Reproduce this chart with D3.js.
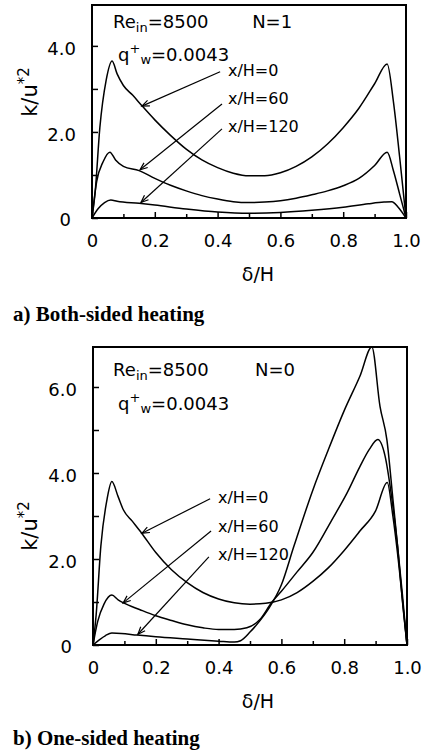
<!DOCTYPE html>
<html>
<head>
<meta charset="utf-8">
<script src="https://cdn.jsdelivr.net/npm/d3@7"></script>
<style>
  body { margin: 0; background: #fff; }
  svg { display: block; }
  .txt { font-family: 'DejaVu Sans', sans-serif; fill: #000; }
  .cap { font-family: 'Liberation Serif', 'Times New Roman', serif; font-weight: bold; font-size: 21px; fill: #000; }
</style>
</head>
<body>
<svg id="chart" width="424" height="754"></svg>
<script>
// tick values shared by both panels
const xTickValues = [0, 0.2, 0.4, 0.6, 0.8, 1.0];
const xTickLabels = ['0', '0.2', '0.4', '0.6', '0.8', '1.0'];
const xMinorTicks = [0.1, 0.3, 0.5, 0.7, 0.9];

const yTicksA = [0, 2, 4];
const yTickLabelsA = ['0', '2.0', '4.0'];
const yMinorA = [1, 3];
const yTicksB = [0, 2, 4, 6];
const yTickLabelsB = ['0', '2.0', '4.0', '6.0'];
const yMinorB = [1, 3, 5];

const seriesNames = ['x/H=0', 'x/H=60', 'x/H=120'];

// a) both-sided heating (N=1), delta/H vs k/u*^2
const a0X = [0, 0.01, 0.025, 0.045, 0.064, 0.08, 0.1, 0.13, 0.16, 0.2, 0.25, 0.3, 0.35, 0.4, 0.45, 0.5, 0.55, 0.6, 0.65, 0.7, 0.75, 0.8, 0.85, 0.9, 0.94, 0.96, 0.98, 1.0];
const a0Y = [0, 0.6, 2.1, 3.2, 3.65, 3.35, 3.08, 2.85, 2.6, 2.28, 1.92, 1.6, 1.35, 1.17, 1.04, 0.98, 0.98, 1.05, 1.2, 1.42, 1.72, 2.1, 2.55, 3.12, 3.58, 2.7, 1.4, 0];
const a60X = [0, 0.015, 0.035, 0.057, 0.075, 0.1, 0.15, 0.2, 0.25, 0.3, 0.35, 0.4, 0.45, 0.5, 0.55, 0.6, 0.65, 0.7, 0.75, 0.8, 0.85, 0.9, 0.94, 0.96, 0.98, 1.0];
const a60Y = [0, 0.85, 1.3, 1.53, 1.35, 1.2, 1.1, 0.92, 0.76, 0.63, 0.52, 0.44, 0.38, 0.36, 0.37, 0.4, 0.46, 0.54, 0.63, 0.75, 0.92, 1.22, 1.53, 1.1, 0.55, 0];
const a120X = [0, 0.02, 0.04, 0.06, 0.08, 0.15, 0.2, 0.3, 0.4, 0.5, 0.6, 0.7, 0.8, 0.88, 0.93, 0.955, 0.975, 1.0];
const a120Y = [0, 0.22, 0.36, 0.42, 0.39, 0.34, 0.3, 0.21, 0.14, 0.11, 0.13, 0.18, 0.25, 0.33, 0.37, 0.38, 0.25, 0];

// b) one-sided heating (N=0)
const b0X = [0, 0.01, 0.025, 0.045, 0.06, 0.08, 0.097, 0.125, 0.155, 0.2, 0.25, 0.3, 0.35, 0.4, 0.45, 0.5, 0.55, 0.6, 0.65, 0.7, 0.75, 0.8, 0.85, 0.9, 0.937, 0.955, 0.975, 1.0];
const b0Y = [0, 0.7, 2.3, 3.4, 3.8, 3.45, 3.14, 2.88, 2.6, 2.15, 1.75, 1.45, 1.22, 1.07, 0.98, 0.95, 0.97, 1.05, 1.22, 1.48, 1.8, 2.2, 2.65, 3.12, 3.78, 3.0, 1.8, 0];
const b60X = [0, 0.015, 0.035, 0.06, 0.08, 0.097, 0.15, 0.2, 0.25, 0.3, 0.35, 0.4, 0.45, 0.49, 0.53, 0.57, 0.6, 0.65, 0.7, 0.76, 0.81, 0.85, 0.88, 0.907, 0.93, 0.95, 0.97, 0.985, 1.0];
const b60Y = [0, 0.55, 0.95, 1.16, 1.05, 0.98, 0.82, 0.68, 0.57, 0.47, 0.4, 0.36, 0.36, 0.4, 0.58, 1.0, 1.25, 1.7, 2.15, 2.9, 3.55, 4.15, 4.55, 4.78, 4.4, 3.5, 2.3, 1.2, 0];
const b120X = [0, 0.02, 0.04, 0.06, 0.09, 0.14, 0.2, 0.3, 0.4, 0.45, 0.47, 0.5, 0.53, 0.56, 0.6, 0.64, 0.7, 0.75, 0.8, 0.85, 0.888, 0.914, 0.936, 0.955, 0.97, 0.987, 1.0];
const b120Y = [0, 0.12, 0.22, 0.28, 0.27, 0.23, 0.19, 0.14, 0.09, 0.07, 0.1, 0.3, 0.55, 0.85, 1.4, 2.3, 3.6, 4.55, 5.45, 6.25, 6.93, 5.55, 4.77, 3.4, 2.3, 0.9, 0];

// arrow annotations in data coordinates: label start, arrow tail, arrow tip
const arrowsA = [
  { label: [0.433, 3.30], from: [0.408, 3.40], to: [0.159, 2.60] },
  { label: [0.433, 2.64], from: [0.414, 2.65], to: [0.153, 1.12] },
  { label: [0.433, 2.00], from: [0.414, 2.07], to: [0.156, 0.36] }
];
const arrowsB = [
  { label: [0.398, 3.30], from: [0.373, 3.40], to: [0.156, 2.60] },
  { label: [0.398, 2.62], from: [0.376, 2.65], to: [0.096, 0.98] },
  { label: [0.398, 1.98], from: [0.369, 2.05], to: [0.143, 0.25] }
];

const svg = d3.select('#chart');

function drawPanel(p) {
  const x = d3.scaleLinear().domain([0, 1]).range([p.left, p.right]);
  const y = d3.scaleLinear().domain([0, p.yMax]).range([p.bottom, p.top]);
  const g = svg.append('g');

  const line = d3.line()
    .curve(d3.curveMonotoneX)
    .x(d => x(d[0]))
    .y(d => y(d[1]));

  p.series.forEach(s => {
    g.append('path')
      .datum(d3.zip(s[0], s[1]))
      .attr('d', line)
      .attr('fill', 'none')
      .attr('stroke', '#000')
      .attr('stroke-width', 1.5);
  });

  // ticks, inward
  const xAxis = d3.axisBottom(x)
    .tickValues(xTickValues)
    .tickFormat((d, i) => xTickLabels[i])
    .tickSizeInner(-6).tickSizeOuter(0).tickPadding(16);
  const xMinor = d3.axisBottom(x)
    .tickValues(xMinorTicks).tickFormat('')
    .tickSizeInner(-4).tickSizeOuter(0);
  const yAxis = d3.axisLeft(y)
    .tickValues(p.yTicks)
    .tickFormat((d, i) => p.yLabels[i])
    .tickSizeInner(-6).tickSizeOuter(0).tickPadding(16);
  const yMinor = d3.axisLeft(y)
    .tickValues(p.yMinor).tickFormat('')
    .tickSizeInner(-6).tickSizeOuter(0);

  [[xAxis, 'translate(0,' + p.bottom + ')'], [xMinor, 'translate(0,' + p.bottom + ')'],
   [yAxis, 'translate(' + p.left + ',0)'], [yMinor, 'translate(' + p.left + ',0)']].forEach(a => {
    const ax = g.append('g').attr('transform', a[1]).call(a[0]);
    ax.select('.domain').remove();
    ax.selectAll('line').attr('stroke', '#000').attr('stroke-width', 1.5);
    ax.selectAll('text')
      .attr('class', 'txt')
      .style('font-size', '18px')
      .attr('fill', '#000');
  });
  g.selectAll('text').filter(function () { return this.textContent === '0' && this.getAttribute('dy') === '0.32em'; })
    .attr('x', -21).attr('dy', '0.42em');
  g.selectAll('text').filter(function () { return this.getAttribute('dy') === '0.32em'; })
    .attr('dy', '0.5em');

  // frame
  g.append('rect')
    .attr('x', x(0)).attr('y', y(p.yMax))
    .attr('width', x(1) - x(0)).attr('height', y(0) - y(p.yMax))
    .attr('fill', 'none').attr('stroke', '#000').attr('stroke-width', 2);

  // header texts
  const re = g.append('text').attr('class', 'txt').style('font-size', '18px')
    .attr('x', x(p.reAt[0])).attr('y', y(p.reAt[1]));
  re.append('tspan').text('Re');
  re.append('tspan').style('font-size', '13px').attr('dy', 4).text('in');
  re.append('tspan').attr('dy', -4).text('=8500');

  g.append('text').attr('class', 'txt').style('font-size', '18px')
    .attr('x', x(p.nAt[0])).attr('y', y(p.nAt[1])).text(p.nText);

  const q = g.append('text').attr('class', 'txt').style('font-size', '18px')
    .attr('x', x(p.qAt[0])).attr('y', y(p.qAt[1]));
  q.append('tspan').text('q');
  q.append('tspan').style('font-size', '13px').attr('dy', -8).text('+');
  q.append('tspan').style('font-size', '13px').attr('dy', 11).text('w');
  q.append('tspan').attr('dy', -3).text('=0.0043');

  // arrows with labels
  p.arrows.forEach((a, i) => {
    const x1 = x(a.from[0]), y1 = y(a.from[1]);
    const x2 = x(a.to[0]), y2 = y(a.to[1]);
    g.append('line')
      .attr('x1', x1).attr('y1', y1).attr('x2', x2).attr('y2', y2)
      .attr('stroke', '#000').attr('stroke-width', 1.2);
    const ang = Math.atan2(y1 - y2, x1 - x2);
    const len = 8, spread = 0.38;
    g.append('path')
      .attr('d', 'M' + (x2 + len * Math.cos(ang - spread)) + ',' + (y2 + len * Math.sin(ang - spread)) +
        'L' + x2 + ',' + y2 +
        'L' + (x2 + len * Math.cos(ang + spread)) + ',' + (y2 + len * Math.sin(ang + spread)))
      .attr('fill', 'none').attr('stroke', '#000').attr('stroke-width', 1.2);
    g.append('text').attr('class', 'txt').style('font-size', '16px')
      .attr('x', x(a.label[0])).attr('y', y(a.label[1]))
      .text(seriesNames[i]);
  });

  // axis titles
  g.append('text').attr('class', 'txt').style('font-size', '19px')
    .attr('text-anchor', 'middle')
    .attr('x', 258).attr('y', p.bottom + 63)
    .text('δ/H');

  const yl = g.append('text').attr('class', 'txt').style('font-size', '21px')
    .attr('text-anchor', 'middle')
    .attr('transform', 'translate(37,' + p.yLabelMid + ') rotate(-90)');
  yl.append('tspan').text('k/u');
  yl.append('tspan').style('font-size', '15px').attr('dy', -8).text('*2');

  svg.append('text').attr('class', 'cap')
    .attr('x', 13).attr('y', p.captionY)
    .text(p.caption);
}

drawPanel({
  left: 92, right: 406, top: 5, bottom: 218, yMax: 4.95,
  series: [[a0X, a0Y], [a60X, a60Y], [a120X, a120Y]],
  yTicks: yTicksA, yLabels: yTickLabelsA, yMinor: yMinorA,
  arrows: arrowsA,
  reAt: [0.067, 4.42], nAt: [0.51, 4.42], nText: 'N=1', qAt: [0.083, 3.66],
  yLabelMid: 92,
  caption: 'a) Both-sided heating', captionY: 321
});

drawPanel({
  left: 93, right: 407, top: 347, bottom: 645, yMax: 6.93,
  series: [[b0X, b0Y], [b60X, b60Y], [b120X, b120Y]],
  yTicks: yTicksB, yLabels: yTickLabelsB, yMinor: yMinorB,
  arrows: arrowsB,
  reAt: [0.064, 6.26], nAt: [0.516, 6.26], nText: 'N=0', qAt: [0.08, 5.47],
  yLabelMid: 526,
  caption: 'b) One-sided heating', captionY: 745
});
</script>
</body>
</html>
